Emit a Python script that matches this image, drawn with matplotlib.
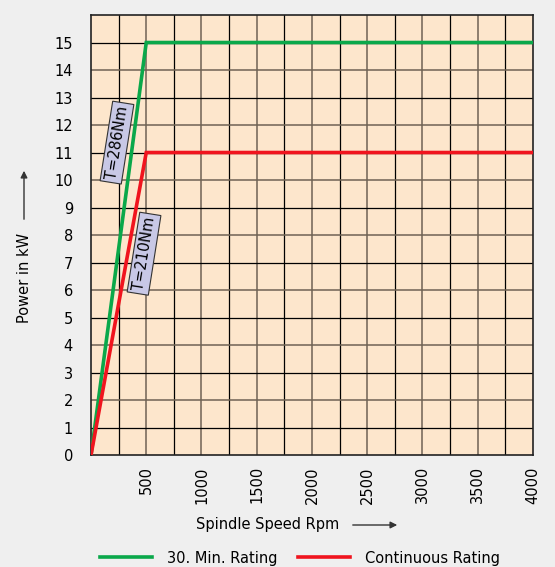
import numpy as np
import matplotlib.pyplot as plt

# data
speed_30min = [0, 500, 4000]
power_30min = [0, 15, 15]
speed_cont = [0, 500, 4000]
power_cont = [0, 11, 11]
xticks = [500, 1000, 1500, 2000, 2500, 3000, 3500, 4000]
yticks = list(range(0, 16))
labels = ["T=286Nm", "T=210Nm"]
label_pos = [(235, 11.36), (480, 7.32)]

plt.rcParams['font.family'] = ['DejaVu Sans']

fig = plt.figure(figsize=(5.55, 5.67), dpi=100, facecolor='#efefef')
ax = fig.add_axes([0.164, 0.1975, 0.796, 0.776])
ax.set_facecolor('#fde6cc')

ax.set_xlim(0, 4000)
ax.set_ylim(0, 16)

# grid (alternating dark / brownish like the original)
for i, gx in enumerate(np.arange(250, 4000, 250)):
    c = '#6f6254' if i % 2 == 1 else 'black'
    ax.axvline(gx, color=c, lw=1.1 if i % 2 == 1 else 0.9, zorder=1)
for j, gy in enumerate(range(1, 16)):
    c = '#6f6254' if j % 2 == 1 else 'black'
    ax.axhline(gy, color=c, lw=1.1 if j % 2 == 1 else 0.9, zorder=1)

l1, = ax.plot(speed_30min, power_30min, color='#0aa84a', lw=2.6, zorder=3,
              solid_joinstyle='miter')
l2, = ax.plot(speed_cont, power_cont, color='#f0141e', lw=2.6, zorder=3,
              solid_joinstyle='miter')

for txt, (px, py) in zip(labels, label_pos):
    ax.text(px, py, txt, rotation=81, ha='center', va='center', fontsize=10.5,
            zorder=4,
            bbox=dict(boxstyle='square,pad=0.22', fc='#c8c8e6', ec='#333333', lw=0.8))

ax.set_xticks(xticks)
ax.set_xticklabels([str(v) for v in xticks], rotation=90, fontsize=10.5)
ax.set_yticks(yticks)
ax.set_yticklabels([str(v) for v in yticks], fontsize=10.5)
ax.tick_params(length=0, pad=8)
ax.tick_params(axis='y', pad=13)
for s in ax.spines.values():
    s.set_linewidth(1.2)
    s.set_color('#222222')

# axis titles with arrows
fig.text(268/555, 1 - 524/567, 'Spindle Speed Rpm', ha='center', va='center', fontsize=10.5)
fig.add_artist(plt.Annotation('', xy=(400/555, 1 - 525/567), xytext=(350/555, 1 - 525/567),
                              xycoords='figure fraction',
                              arrowprops=dict(arrowstyle='-|>', color='#333333', lw=1,
                                              mutation_scale=10)))
fig.text(25/555, 1 - 278/567, 'Power in kW', ha='center', va='center', rotation=90, fontsize=10.5)
fig.add_artist(plt.Annotation('', xy=(24/555, 1 - 168/567), xytext=(24/555, 1 - 222/567),
                              xycoords='figure fraction',
                              arrowprops=dict(arrowstyle='-|>', color='#333333', lw=1,
                                              mutation_scale=10)))

fig.legend([l1, l2], ['30. Min. Rating', 'Continuous Rating'], loc='center',
           bbox_to_anchor=(300/555, 1 - 558/567), ncol=2, frameon=False, fontsize=10.5,
           handlelength=3.6, handletextpad=1.0, columnspacing=1.4)

plt.savefig('out.png', dpi=100, facecolor=fig.get_facecolor())
